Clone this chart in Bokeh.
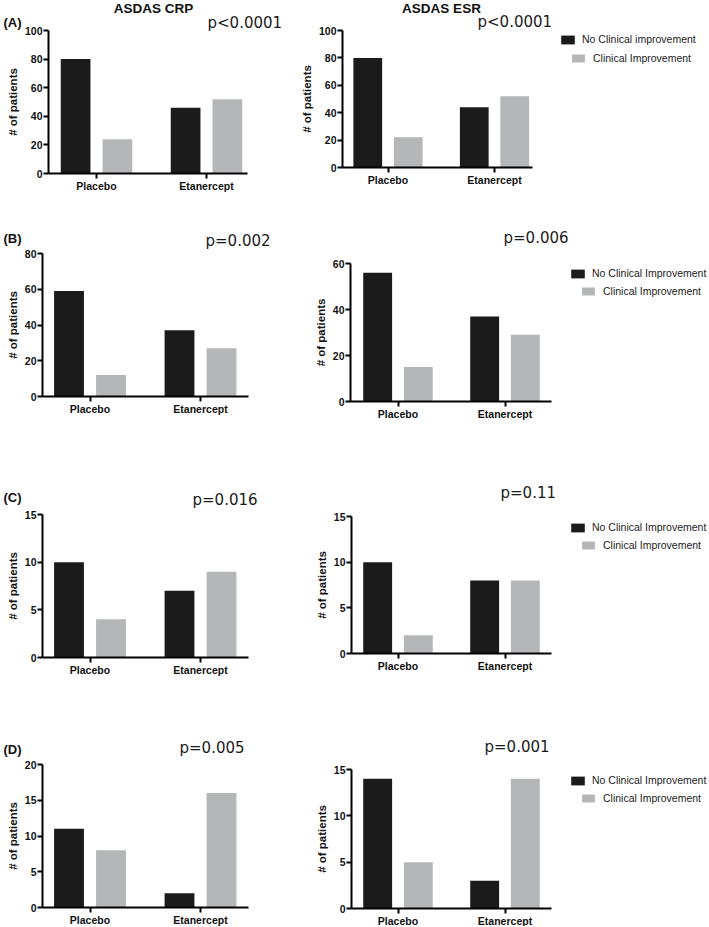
from bokeh.plotting import figure
from bokeh.layouts import column, row
from bokeh.models import (ColumnDataSource, Range1d, FixedTicker, Label, Legend, LegendItem,
                          LinearAxis)
from bokeh.transform import dodge
from bokeh.embed import file_html
from bokeh.resources import INLINE

# ---------------- data ----------------
groups = ["Placebo", "Etanercept"]
group_pos = [0, 1]

a_crp_none = [80, 46]
a_crp_impr = [24, 52]
a_esr_none = [80, 44]
a_esr_impr = [22, 52]

b_crp_none = [59, 37]
b_crp_impr = [12, 27]
b_esr_none = [56, 37]
b_esr_impr = [15, 29]

c_crp_none = [10, 7]
c_crp_impr = [4, 9]
c_esr_none = [10, 8]
c_esr_impr = [2, 8]

d_crp_none = [11, 2]
d_crp_impr = [8, 16]
d_esr_none = [14, 3]
d_esr_impr = [5, 14]

p_values = {"A": ("p<0.0001", "p<0.0001"), "B": ("p=0.002", "p=0.006"),
            "C": ("p=0.016", "p=0.11"), "D": ("p=0.005", "p=0.001")}
y_max = {"A": (100, 100), "B": (80, 60), "C": (15, 15), "D": (20, 15)}
y_step = {"A": (20, 20), "B": (20, 20), "C": (5, 5), "D": (5, 5)}
legend_none = {"A": "No Clinical improvement", "B": "No Clinical Improvement",
               "C": "No Clinical Improvement", "D": "No Clinical Improvement"}
legend_impr = "Clinical Improvement"

BLACK = "#1b1b1b"
GRAY = "#b5b6b8"
TEXT = "#111111"
SANS = "Liberation Sans"
PFONT = "DejaVu Sans"

# ---------------- layout geometry (reference pixels) ----------------
rows_geo = {"A": (0, 205), "B": (205, 220), "C": (425, 255), "D": (680, 246)}
cols_geo = {"L": (0, 300), "R": (300, 409)}
# frame left, right, top(=y max), bottom(=0), tick centre 1, tick centre 2
frames = {
    ("A", "L"): (48, 247, 30, 173, 96, 206),
    ("A", "R"): (342, 532, 30, 167, 387.5, 494),
    ("B", "L"): (42, 248, 253, 396, 89.5, 200),
    ("B", "R"): (350, 551, 263, 401, 397.5, 504.5),
    ("C", "L"): (42, 248, 514, 657, 89.5, 200),
    ("C", "R"): (351, 551, 516, 653, 397.5, 504.5),
    ("D", "L"): (42, 248, 764, 907, 89.5, 200),
    ("D", "R"): (351, 551, 769, 908, 397.5, 504.5),
}
panel_label_y = {"A": 22, "B": 238, "C": 497, "D": 749}
pval_pos = {("A", "L"): (207, 22), ("A", "R"): (477, 21),
            ("B", "L"): (205, 240), ("B", "R"): (503, 237),
            ("C", "L"): (192, 499), ("C", "R"): (500, 492),
            ("D", "L"): (179, 747), ("D", "R"): (484, 746)}
legend_pos = {"A": (559, 34, 570, 54), "B": (569, 268, 580, 287),
              "C": (569, 522, 580, 541), "D": (569, 775, 580, 794)}

series = {
    ("A", "L"): (a_crp_none, a_crp_impr), ("A", "R"): (a_esr_none, a_esr_impr),
    ("B", "L"): (b_crp_none, b_crp_impr), ("B", "R"): (b_esr_none, b_esr_impr),
    ("C", "L"): (c_crp_none, c_crp_impr), ("C", "R"): (c_esr_none, c_esr_impr),
    ("D", "L"): (d_crp_none, d_crp_impr), ("D", "R"): (d_esr_none, d_esr_impr),
}


def make_panel(r, c):
    rtop, rh = rows_geo[r]
    cx, cw = cols_geo[c]
    fx0, fx1, fy0, fy1, c0, c1 = frames[(r, c)]
    unit = c1 - c0
    ci = 0 if c == "L" else 1
    ymax = y_max[r][ci]
    step = y_step[r][ci]

    def xd(rx):
        return (rx - c0) / unit

    def yd(ry):
        return ymax * (fy1 - ry) / (fy1 - fy0)

    p = figure(width=cw, height=rh,
               x_range=Range1d(xd(cx), xd(cx + cw)), y_range=Range1d(yd(rtop + rh), yd(rtop)),
               output_backend="svg", toolbar_location=None,
               x_axis_location=None, y_axis_location=None, min_border=0)
    p.outline_line_color = None
    p.xgrid.visible = False
    p.ygrid.visible = False
    p.background_fill_color = "white"
    p.border_fill_color = "white"

    none_vals, impr_vals = series[(r, c)]
    src = ColumnDataSource(dict(x=group_pos, group=groups, none=none_vals, impr=impr_vals))
    rb = p.vbar(x=dodge("x", -0.19, range=p.x_range), top="none", width=0.27, source=src,
                fill_color=BLACK, line_color=None)
    rg = p.vbar(x=dodge("x", 0.19, range=p.x_range), top="impr", width=0.27, source=src,
                fill_color=GRAY, line_color=None)

    # axes drawn at their data location
    xax = LinearAxis(fixed_location=0, bounds=(xd(fx0), xd(fx1)),
                     ticker=FixedTicker(ticks=group_pos))
    xax.major_label_overrides = {i: g for i, g in zip(group_pos, groups)}
    yax = LinearAxis(fixed_location=xd(fx0), bounds=(0, ymax),
                     ticker=FixedTicker(ticks=list(range(0, ymax + 1, step))))
    for ax in (xax, yax):
        ax.axis_line_width = 2
        ax.axis_line_color = "black"
        ax.major_tick_line_width = 2
        ax.major_tick_line_color = "black"
        ax.major_tick_out = 5
        ax.major_tick_in = 0
        ax.minor_tick_line_color = None
        ax.major_label_standoff = 1
        ax.major_label_text_font = SANS
        ax.major_label_text_font_style = "bold"
        ax.major_label_text_font_size = "10.5px"
        ax.major_label_text_color = TEXT
    yax.axis_label = "# of patients"
    yax.axis_label_text_font = SANS
    yax.axis_label_text_font_style = "bold"
    yax.axis_label_text_font_size = "11.5px"
    yax.axis_label_standoff = 3
    yax.axis_label_text_color = TEXT
    p.add_layout(xax, "below")
    p.add_layout(yax, "left")

    # texts
    if c == "L":
        p.add_layout(Label(x=xd(3), y=yd(panel_label_y[r]), text="(" + r + ")", text_font=SANS,
                           text_font_style="bold", text_font_size="13px", text_color=TEXT,
                           text_baseline="middle", text_align="left"))
    if r == "A":
        tx = 153 if c == "L" else 441
        p.add_layout(Label(x=xd(tx), y=yd(8), text="ASDAS CRP" if c == "L" else "ASDAS ESR",
                           text_font=SANS, text_font_style="bold", text_font_size="13.5px",
                           text_color=TEXT, text_baseline="middle", text_align="center"))
    px, py = pval_pos[(r, c)]
    p.add_layout(Label(x=xd(px), y=yd(py), text=p_values[r][ci], text_font=PFONT,
                       text_font_size="15px", text_baseline="middle", text_align="left",
                       text_color="#1a1a1a"))

    # legends (right column only)
    if c == "R":
        bx1, by1, bx2, by2 = legend_pos[r]
        for (bx, by, label, rend, gw, gh, so) in (
                (bx1, by1, legend_none[r], rb, 17, 11, 6),
                (bx2, by2, legend_impr, rg, 16, 10, 7)):
            item_h = gh
            leg = Legend(items=[LegendItem(label=label, renderers=[rend])],
                         location=(bx - cx, (rtop + rh) - (by + item_h)),
                         orientation="vertical", padding=0, margin=0, spacing=0,
                         glyph_width=gw, glyph_height=gh, label_height=item_h,
                         label_standoff=so, label_text_font=SANS,
                         label_text_font_size="10.5px", label_text_color="#222222",
                         border_line_color=None, background_fill_alpha=0)
            p.add_layout(leg)
    return p


rows = []
for r in ["A", "B", "C", "D"]:
    rows.append(row(make_panel(r, "L"), make_panel(r, "R"), spacing=0))
layout = column(*rows, spacing=0)

open("out.html", "w").write(file_html(layout, INLINE))
